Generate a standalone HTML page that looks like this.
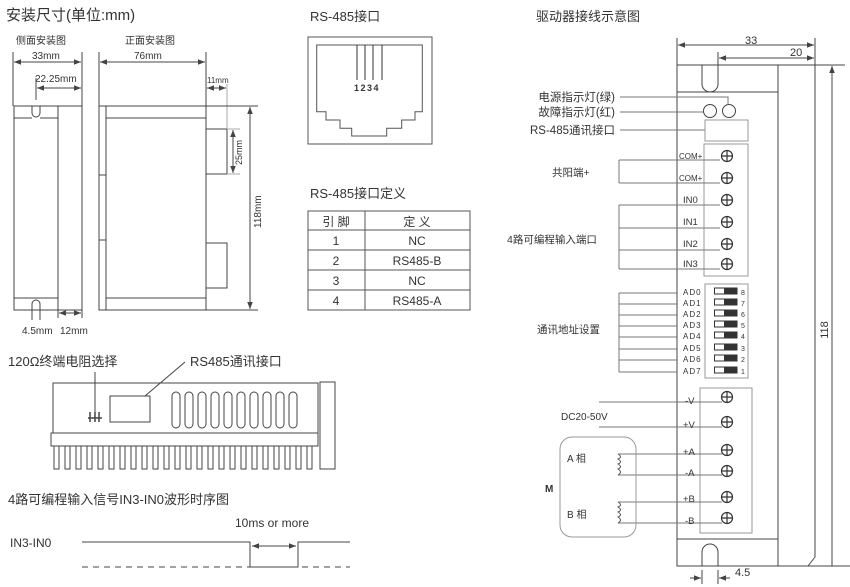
<!DOCTYPE html>
<html><head><meta charset="utf-8"><style>
body{margin:0;background:#fff}
svg{display:block;font-family:"Liberation Sans","Noto Sans CJK SC",sans-serif}
</style></head><body>
<svg width="850" height="587" viewBox="0 0 850 587" xmlns="http://www.w3.org/2000/svg">
<defs>
<marker id="a" viewBox="0 0 10 10" refX="10" refY="5" markerWidth="7" markerHeight="7" orient="auto-start-reverse"><path d="M0,1 L10,5 L0,9 z" fill="#444"/></marker>
<g id="scr"><circle r="5.5" fill="#fff" stroke="#333" stroke-width="1.2"/><path d="M-5.5,0H5.5M0,-5.5V5.5" stroke="#333" stroke-width="1.2"/></g>
</defs>
<g fill="#333">
<text x="6" y="20" font-size="15">安装尺寸(单位:mm)</text>
<text x="16" y="44" font-size="10">侧面安装图</text>
<text x="125" y="44" font-size="10">正面安装图</text>
<text x="32" y="59" font-size="10">33mm</text>
<text x="35" y="82" font-size="10">22.25mm</text>
<text x="134" y="59" font-size="10">76mm</text>
<text x="207" y="83" font-size="8">11mm</text>
<text x="22" y="334" font-size="10">4.5mm</text>
<text x="60" y="334" font-size="10">12mm</text>
<text transform="translate(242,165) rotate(-90)" font-size="9">25mm</text>
<text transform="translate(261,228) rotate(-90)" font-size="10">118mm</text>
</g>
<g stroke="#444" fill="none" stroke-width="1">
<path d="M13,52V106M82,52V106"/>
<line x1="14" y1="62" x2="81" y2="62" marker-start="url(#a)" marker-end="url(#a)"/>
<path d="M36,78V100"/>
<line x1="37" y1="88" x2="81" y2="88" marker-start="url(#a)" marker-end="url(#a)"/>
<path d="M14,106H82V310H14Z M58,106V310 M14,118H32 M40,118H58 M14,298H58"/>
<path d="M32,106V113A4,4 0 0 0 40,113V106"/>
<path d="M32,320V304A4,4 0 0 1 40,304V320"/>
<path d="M58,305V318M82,305V318"/>
<line x1="59" y1="313" x2="81" y2="313" marker-start="url(#a)" marker-end="url(#a)"/>
<path d="M99,52V310M206,52V310"/>
<line x1="100" y1="62" x2="205" y2="62" marker-start="url(#a)" marker-end="url(#a)"/>
<path d="M99,106H206V310H99Z M106,106V310 M106,118H206 M106,298H206 M99,175H106 M99,240H106"/>
<path d="M206,129H227V174H206 M206,243H227V288H206"/>
<path d="M227,84V129" stroke="#aaa"/>
<line x1="207" y1="88" x2="226" y2="88" marker-start="url(#a)" marker-end="url(#a)"/>
<path d="M227,129H240M227,174H240" stroke="#aaa"/>
<line x1="233" y1="130" x2="233" y2="173" marker-start="url(#a)" marker-end="url(#a)"/>
<path d="M206,106H258M206,310H258"/>
<line x1="250" y1="107" x2="250" y2="309" marker-start="url(#a)" marker-end="url(#a)"/>
</g>
<!-- RS485 jack -->
<text x="310" y="21" font-size="13" fill="#333">RS-485接口</text>
<rect x="308" y="37" width="124" height="107" fill="none" stroke="#555"/>
<path d="M316.7,45H422.3V111.7H415V120H401.7V128.3H386.7V136H351.7V128.3H340V120H326V111.7H316.7Z" fill="none" stroke="#555"/>
<path d="M357,45V80M365,45V80M373,45V80M382,45V80" stroke="#333"/>
<text x="354" y="91" font-size="9" font-weight="bold" fill="#333" letter-spacing="1.5">1234</text>
<text x="310" y="198" font-size="13" fill="#333">RS-485接口定义</text>
<g stroke="#555" fill="none"><path d="M308,211H470V310H308Z M365,211V310 M308,230H470 M308,250H470 M308,270H470 M308,290H470"/></g>
<g font-size="12" fill="#333" text-anchor="middle">
<text x="336" y="226">引 脚</text><text x="417" y="226">定 义</text>
<text x="336" y="245">1</text><text x="417" y="245">NC</text>
<text x="336" y="265">2</text><text x="417" y="265">RS485-B</text>
<text x="336" y="285">3</text><text x="417" y="285">NC</text>
<text x="336" y="305">4</text><text x="417" y="305">RS485-A</text>
</g>
<!-- bottom-left device -->
<text x="8" y="366" font-size="13" fill="#333">120Ω终端电阻选择</text>
<text x="190" y="366" font-size="13" fill="#333">RS485通讯接口</text>
<g stroke="#444" fill="none">
<path d="M185,362L145,396 M95,372V413"/>
<rect x="53" y="383" width="265" height="50"/>
<rect x="320" y="382" width="15" height="87"/>
<rect x="51" y="433" width="267" height="13"/>
<rect x="110" y="396" width="40" height="26"/>
<path d="M88,418H102M90,412V422M95,412V422M99,412V422" stroke-width="1.5"/>
<g>
<rect x="172" y="392" width="8" height="36" rx="4"/><rect x="185" y="392" width="8" height="36" rx="4"/><rect x="198" y="392" width="8" height="36" rx="4"/><rect x="211" y="392" width="8" height="36" rx="4"/><rect x="224" y="392" width="8" height="36" rx="4"/><rect x="237" y="392" width="8" height="36" rx="4"/><rect x="250" y="392" width="8" height="36" rx="4"/><rect x="263" y="392" width="8" height="36" rx="4"/><rect x="276" y="392" width="8" height="36" rx="4"/><rect x="289" y="392" width="8" height="36" rx="4"/>
</g>
<g>
<rect x="54" y="446" width="5" height="23"/><rect x="65" y="446" width="5" height="23"/><rect x="76" y="446" width="5" height="23"/><rect x="87" y="446" width="5" height="23"/><rect x="98" y="446" width="5" height="23"/><rect x="109" y="446" width="5" height="23"/><rect x="120" y="446" width="5" height="23"/><rect x="131" y="446" width="5" height="23"/><rect x="142" y="446" width="5" height="23"/><rect x="153" y="446" width="5" height="23"/><rect x="164" y="446" width="5" height="23"/><rect x="175" y="446" width="5" height="23"/><rect x="186" y="446" width="5" height="23"/><rect x="197" y="446" width="5" height="23"/><rect x="208" y="446" width="5" height="23"/><rect x="219" y="446" width="5" height="23"/><rect x="230" y="446" width="5" height="23"/><rect x="241" y="446" width="5" height="23"/><rect x="252" y="446" width="5" height="23"/><rect x="263" y="446" width="5" height="23"/><rect x="274" y="446" width="5" height="23"/><rect x="285" y="446" width="5" height="23"/><rect x="296" y="446" width="5" height="23"/><rect x="307" y="446" width="5" height="23"/>
</g>
</g>
<text x="8" y="504" font-size="13" fill="#333">4路可编程输入信号IN3-IN0波形时序图</text>
<text x="235" y="527" font-size="12" fill="#333">10ms or more</text>
<text x="10" y="547" font-size="12" fill="#333">IN3-IN0</text>
<g stroke="#444" fill="none">
<path d="M82,542H250V567H298V542H350"/>
<path d="M82,567H350" stroke-dasharray="6,5"/>
<line x1="252" y1="546" x2="296" y2="546" marker-start="url(#a)" marker-end="url(#a)"/>
</g>
<!-- right diagram -->
<text x="536" y="21" font-size="13" fill="#333">驱动器接线示意图</text>
<g stroke="#444" fill="none">
<path d="M677,38V566H850 M778,65V566 M677,65H845 M677,92H778 M677,539H778"/>
<path d="M702,65V84A8,8 0 0 0 718,84V65"/>
<path d="M702,566V552A8,8 0 0 1 718,552V566"/>
<path d="M815,38V557L808,566 M718,52V65"/>
<line x1="678" y1="45" x2="814" y2="45" marker-start="url(#a)" marker-end="url(#a)"/>
<line x1="719" y1="58" x2="814" y2="58" marker-start="url(#a)" marker-end="url(#a)"/>
<line x1="832" y1="66" x2="832" y2="566" marker-start="url(#a)"/>
<path d="M702,570V584M718,570V584"/>
<line x1="690" y1="578" x2="701" y2="578" marker-end="url(#a)"/>
<line x1="730" y1="578" x2="719" y2="578" marker-end="url(#a)"/>
<circle cx="710" cy="111" r="6.5"/><circle cx="729" cy="111" r="6.5"/>
<path d="M620,97H728V104 M620,112H703 M620,130H705" stroke="#777"/>
<rect x="705" y="120" width="43" height="21" stroke="#999"/>
<rect x="704" y="144" width="44" height="132" stroke="#999"/>
<path d="M619,160H720M619,183H720M619,160V183 M619,205H720M619,228H720M619,250H720M619,269H720M619,205V269" stroke="#777"/>
<rect x="705" y="284" width="43" height="94" stroke="#999"/>
<path d="M619,293H677M619,304H677M619,315H677M619,326H677M619,337H677M619,349H677M619,360H677M619,372H677M619,293V372" stroke="#777"/>
<rect x="700" y="388" width="52" height="145" stroke="#999"/>
<path d="M599,402H722M599,427H722 M618,454H722M618,475H722M618,502H722M618,523H722" stroke="#777"/>
<rect x="560" y="437" width="76" height="100" rx="12" stroke="#999"/>
<path d="M618,454q5,3 0,5q5,3 0,5q5,3 0,5q5,3 0,6 M618,502q5,3 0,5q5,3 0,5q5,3 0,5q5,3 0,6" stroke="#555"/>
</g>
<g fill="#333">
<text x="828" y="330" font-size="11" transform="rotate(-90 828 330)" text-anchor="middle">118</text>
<text x="745" y="44" font-size="11">33</text>
<text x="790" y="56" font-size="11">20</text>
<text x="735" y="576" font-size="11">4.5</text>
<g font-size="11.5" text-anchor="end">
<text x="615" y="101">电源指示灯(绿)</text>
<text x="615" y="116">故障指示灯(红)</text>
<text x="615" y="134">RS-485通讯接口</text>
</g>
<text x="552" y="176" font-size="10.5">共阳端+</text>
<text x="507" y="243" font-size="10.5">4路可编程输入端口</text>
<text x="537" y="333" font-size="10.5">通讯地址设置</text>
<text x="561" y="420" font-size="10">DC20-50V</text>
<text x="567" y="462" font-size="10">A 相</text>
<text x="567" y="518" font-size="10">B 相</text>
<text x="545" y="492" font-size="10" font-weight="bold">M</text>
<g font-size="8">
<text x="679" y="159">COM+</text><text x="679" y="181">COM+</text>
</g>
<g font-size="9.5">
<text x="683" y="203">IN0</text><text x="683" y="225">IN1</text><text x="683" y="247">IN2</text><text x="683" y="267">IN3</text>
<text x="685" y="404">-V</text><text x="683" y="428">+V</text><text x="683" y="455">+A</text><text x="685" y="476">-A</text><text x="683" y="502">+B</text><text x="685" y="524">-B</text>
</g>
<g font-size="8" letter-spacing="1">
<text x="683" y="295">AD0</text><text x="683" y="306">AD1</text><text x="683" y="317">AD2</text><text x="683" y="328">AD3</text><text x="683" y="339">AD4</text><text x="683" y="351">AD5</text><text x="683" y="362">AD6</text><text x="683" y="374">AD7</text>
</g>
<g font-size="7">
<text x="741" y="295">8</text><text x="741" y="306">7</text><text x="741" y="317">6</text><text x="741" y="328">5</text><text x="741" y="339">4</text><text x="741" y="351">3</text><text x="741" y="362">2</text><text x="741" y="374">1</text>
</g>
</g>
<g stroke="#333" fill="#333">
<g><rect x="714.5" y="288" width="10" height="6" fill="#fff"/><rect x="725" y="288" width="12" height="6"/></g>
<g><rect x="714.5" y="299" width="10" height="6" fill="#fff"/><rect x="725" y="299" width="12" height="6"/></g>
<g><rect x="714.5" y="310" width="10" height="6" fill="#fff"/><rect x="725" y="310" width="12" height="6"/></g>
<g><rect x="714.5" y="321" width="10" height="6" fill="#fff"/><rect x="725" y="321" width="12" height="6"/></g>
<g><rect x="714.5" y="332" width="10" height="6" fill="#fff"/><rect x="725" y="332" width="12" height="6"/></g>
<g><rect x="714.5" y="344" width="10" height="6" fill="#fff"/><rect x="725" y="344" width="12" height="6"/></g>
<g><rect x="714.5" y="355" width="10" height="6" fill="#fff"/><rect x="725" y="355" width="12" height="6"/></g>
<g><rect x="714.5" y="367" width="10" height="6" fill="#fff"/><rect x="725" y="367" width="12" height="6"/></g>
</g>
<use href="#scr" x="727" y="156"/><use href="#scr" x="727" y="178"/><use href="#scr" x="727" y="200"/><use href="#scr" x="727" y="222"/><use href="#scr" x="727" y="244"/><use href="#scr" x="727" y="264"/>
<use href="#scr" x="727" y="397"/><use href="#scr" x="727" y="422"/><use href="#scr" x="727" y="450"/><use href="#scr" x="727" y="471"/><use href="#scr" x="727" y="497"/><use href="#scr" x="727" y="518"/>
</svg>
</body></html>
